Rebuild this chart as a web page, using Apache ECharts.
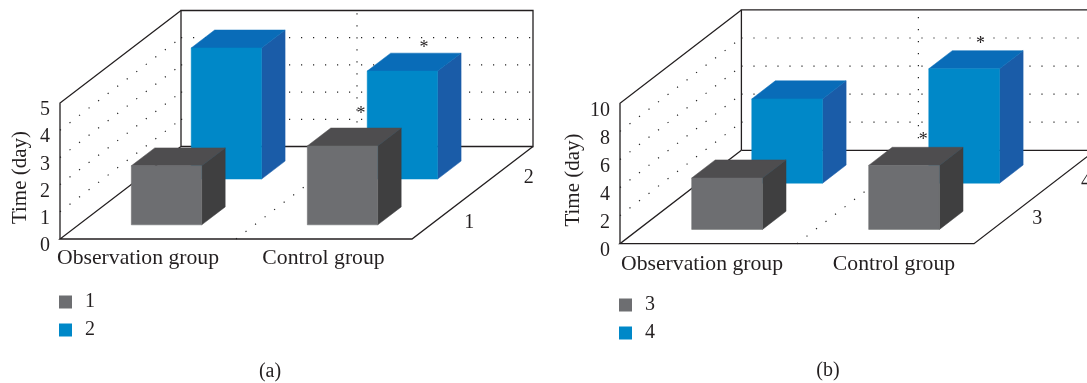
<!DOCTYPE html>
<html>
<head>
<meta charset="utf-8">
<style>html,body{margin:0;padding:0;background:#fff}#c{width:1087px;height:383px}</style>
<script src="https://cdn.jsdelivr.net/npm/echarts@6/dist/echarts.min.js"></script>
</head>
<body>
<div id="c"></div>
<script>
// ---- data ----
var categories = ['Observation group', 'Control group'];
var seriesNamesA = ['1', '2'];
var seriesNamesB = ['3', '4'];
var valuesA1 = [2.17, 2.9];
var valuesA2 = [4.82, 3.97];
var valuesB3 = [3.66, 4.56];
var valuesB4 = [6.0, 8.15];
// significance marks: [category index, value, depth fraction]
var starsA = [[1, 4.32, 0.826], [1, 3.67, 0.306]];
var starsB = [[1, 9.2, 0.783], [1, 5.5, 0.31]];
var axisMaxA = 5, axisStepA = 1;
var axisMaxB = 10, axisStepB = 2;
var yAxisTitle = 'Time (day)';
var captions = ['(a)', '(b)'];

// ---- style / layout ----
var FONT = '"Liberation Serif", serif';
var INK = '#231f20';
var GREY = {front: '#6d6e71', top: '#4e4d4f', side: '#3f3f40'};
var BLUE = {front: '#0088c8', top: '#096cb8', side: '#1a5ca8'};
var ROW_DEPTH = [0.25, 0.745];
var HALF_W = 0.2, HALF_D = 0.097;
var panels = [
  {grid: {left: 60, top: 103, width: 352, height: 136}, dx: 121, dy: -92.5,
   names: seriesNamesA, rows: [valuesA1, valuesA2], stars: starsA, max: axisMaxA, step: axisStepA,
   legend: {left: 59, top: 292}, caption: {left: 270, top: 362},
   depthNudge: [[27, 7], [26, 8]], nameGap: 29, labelPad: [{padding: [0, 20, 0, 0]}, {padding: [0, 1, 0, 0]}], labelMargin: 8},
  {grid: {left: 620, top: 103.3, width: 354, height: 140.4}, dx: 121.4, dy: -93.4,
   names: seriesNamesB, rows: [valuesB3, valuesB4], stars: starsB, max: axisMaxB, step: axisStepB,
   legend: {left: 619, top: 295}, caption: {left: 828, top: 361},
   depthNudge: [[33, -2], [21, 8]], nameGap: 36, labelPad: [{padding: [0, 13, 0, 0]}, {padding: [0, 0, 0, 17]}], labelMargin: 10}
];

function projector(api, p) {
  var bw = api.size([1, 0])[0];
  return function (cat, v, d) {
    var c = api.coord([0, v]);
    return [c[0] + cat * bw + d * p.dx, c[1] + d * p.dy];
  };
}
function poly(points, fill, z) {
  return {type: 'polygon', shape: {points: points}, z2: z || 0,
    style: {fill: fill, stroke: fill, lineWidth: 0.5}};
}
function dotted(a, b) {
  return {type: 'line', shape: {x1: a[0], y1: a[1], x2: b[0], y2: b[1]},
    style: {stroke: '#222', lineWidth: 1.2, lineDash: [1.2, 10.8], fill: null}};
}
function solid(points, w) {
  return {type: 'polyline', shape: {points: points}, style: {stroke: INK, lineWidth: w || 1.3, fill: null}};
}

function wallsSeries(p, i) {
  return {
    type: 'custom', xAxisIndex: i, yAxisIndex: i, z: 1, silent: true, clip: false,
    data: [[0, 0]],
    renderItem: function (params, api) {
      var P = projector(api, p), kids = [];
      var L = -0.5, R = 1.5, M = 0.5, T = p.max;
      for (var v = p.step; v < p.max; v += p.step) {
        kids.push(dotted(P(L, v, 1), P(R, v, 1)));
        kids.push(dotted(P(L, v, 0), P(L, v, 1)));
      }
      kids.push(dotted(P(M, 0, 1), P(M, T, 1)));
      kids.push(dotted(P(M, 0, 0), P(M, 0, 1)));
      kids.push(solid([P(L, 0, 1), P(L, T, 1), P(R, T, 1), P(R, 0, 1), P(L, 0, 1)]));
      kids.push(solid([P(L, 0, 0), P(L, T, 0), P(L, T, 1)]));
      kids.push(solid([P(L, 0, 1), P(L, 0, 0), P(R, 0, 0), P(R, 0, 1)]));
      return {type: 'group', children: kids};
    }
  };
}

function barSeries(p, i, row) {
  var pal = row === 0 ? GREY : BLUE;
  return {
    type: 'custom', name: p.names[row], xAxisIndex: i, yAxisIndex: i,
    z: row === 0 ? 4 : 3, clip: false, silent: true,
    itemStyle: {color: pal.front},
    encode: {x: 0, y: 1},
    data: p.rows[row].map(function (v, c) { return [c, v]; }),
    renderItem: function (params, api) {
      var P = projector(api, p);
      var c = api.value(0), v = api.value(1), d = ROW_DEPTH[row];
      var l = c - HALF_W, r = c + HALF_W, f = d - HALF_D, b = d + HALF_D;
      return {type: 'group', children: [
        poly([P(r, 0, f), P(r, 0, b), P(r, v, b), P(r, v, f)], pal.side),
        poly([P(l, v, f), P(r, v, f), P(r, v, b), P(l, v, b)], pal.top),
        poly([P(l, 0, f), P(r, 0, f), P(r, v, f), P(l, v, f)], pal.front)
      ]};
    }
  };
}

function starSeries(p, i) {
  return {
    type: 'custom', xAxisIndex: i, yAxisIndex: i, z: 6, clip: false, silent: true,
    encode: {x: 0, y: 1},
    data: p.stars,
    renderItem: function (params, api) {
      var P = projector(api, p);
      var pt = P(api.value(0), api.value(1), api.value(2));
      return {type: 'text', x: pt[0], y: pt[1] + 3,
        style: {text: '*', font: '18px ' + FONT, fill: INK, textAlign: 'center', textVerticalAlign: 'middle'}};
    }
  };
}

function depthLabelSeries(p, i) {
  return {
    type: 'custom', xAxisIndex: i, yAxisIndex: i, z: 6, clip: false, silent: true,
    data: [[0, 0], [0, 0]],
    renderItem: function (params, api) {
      var P = projector(api, p), k = params.dataIndex;
      var pt = P(1.5, 0, [0.25, 0.75][k]), n = p.depthNudge[k];
      return {type: 'text', x: pt[0] + n[0], y: pt[1] + n[1],
        style: {text: p.names[k], font: '20px ' + FONT, fill: INK, textAlign: 'center', textVerticalAlign: 'middle'}};
    }
  };
}

var option = {
  animation: false,
  backgroundColor: '#fff',
  textStyle: {fontFamily: FONT, color: INK},
  grid: panels.map(function (p) { return p.grid; }),
  title: panels.map(function (p, i) {
    return {text: captions[i], left: p.caption.left, top: p.caption.top, textAlign: 'center', padding: 0,
      textStyle: {fontFamily: FONT, fontSize: 20, fontWeight: 'normal', color: INK}};
  }),
  legend: panels.map(function (p) {
    return {orient: 'vertical', left: p.legend.left, top: p.legend.top, padding: 0,
      data: p.names.map(function (n) { return {name: n, icon: 'rect'}; }),
      itemWidth: 13, itemHeight: 13, itemGap: 8, selectedMode: false,
      textStyle: {fontFamily: FONT, fontSize: 20, color: INK, padding: [0, 0, 0, 8]}};
  }),
  xAxis: panels.map(function (p, i) {
    return {type: 'category', gridIndex: i,
      data: categories.map(function (c, k) { return {value: c, textStyle: p.labelPad[k]}; }),
      axisLine: {show: false}, axisTick: {show: false}, splitLine: {show: false},
      axisLabel: {interval: 0, margin: p.labelMargin, fontFamily: FONT, fontSize: 21.7, color: INK, hideOverlap: false}};
  }),
  yAxis: panels.map(function (p, i) {
    return {type: 'value', gridIndex: i, min: 0, max: p.max, interval: p.step,
      name: yAxisTitle, nameLocation: 'middle', nameGap: p.nameGap, nameRotate: 90,
      nameTextStyle: {fontFamily: FONT, fontSize: 21, color: INK, padding: [0, 13, 0, 0]},
      axisLine: {show: false}, axisTick: {show: false}, splitLine: {show: false},
      axisLabel: {margin: 10, fontFamily: FONT, fontSize: 20, color: INK, verticalAlign: 'top', lineHeight: 14}};
  }),
  series: []
};
panels.forEach(function (p, i) {
  option.series.push(wallsSeries(p, i), barSeries(p, i, 0), barSeries(p, i, 1), starSeries(p, i), depthLabelSeries(p, i));
});
echarts.init(document.getElementById('c'), null, {renderer: 'canvas'}).setOption(option);
</script>
</body>
</html>
